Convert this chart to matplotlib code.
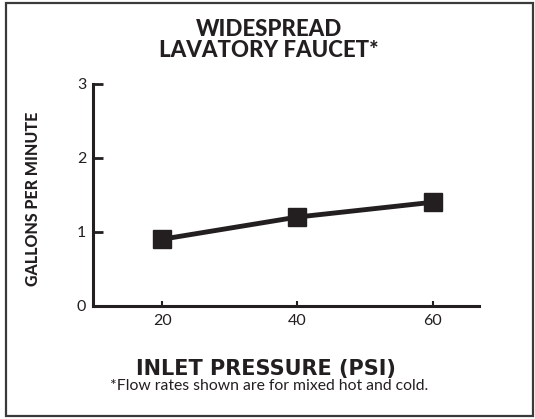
import matplotlib
matplotlib.use("Agg")
import matplotlib.pyplot as plt
from matplotlib.patches import Rectangle

# inlet pressure (psi) vs flow (gpm)
pressure = [20, 40, 60]
flow = [0.9, 1.2, 1.4]
y_ticks = [0, 1, 2, 3]

ink = "#231f20"
plt.rcParams["font.family"] = ["Lato", "DejaVu Sans"]

fig = plt.figure(figsize=(5.35, 4.19), dpi=100)
ax = fig.add_axes([0.174, 0.270, 0.721, 0.530])

ax.plot(pressure, flow, color=ink, lw=3.5, marker="s", markersize=12.5,
        markerfacecolor=ink, markeredgecolor=ink)

ax.set_xlim(9.8, 66.8)
ax.set_ylim(0, 3)
ax.set_xticks(pressure)
ax.set_yticks(y_ticks)

for side in ["top", "right"]:
    ax.spines[side].set_visible(False)
for side in ["left", "bottom"]:
    ax.spines[side].set_linewidth(2.2)
    ax.spines[side].set_color(ink)
    ax.spines[side].set_capstyle("projecting")

ax.tick_params(axis="y", direction="in", length=7, width=2, pad=5,
               labelsize=11.5, colors=ink)
ax.tick_params(axis="x", direction="in", length=3.5, width=1.5, pad=6,
               labelsize=11.5, colors=ink)

fig.text(0.503, 0.905, "WIDESPREAD\nLAVATORY FAUCET*", ha="center", va="center",
         fontsize=16, fontweight="black", color=ink, linespacing=1.0)
fig.text(0.062, 0.525, "GALLONS PER MINUTE", rotation=90, ha="center", va="center",
         fontsize=11.5, fontweight="black", color=ink)
fig.text(0.497, 0.119, "INLET PRESSURE (PSI)", ha="center", va="center",
         fontsize=15, fontweight="bold", color=ink, family="DejaVu Sans")
fig.text(0.503, 0.079, "*Flow rates shown are for mixed hot and cold.", ha="center",
         va="center", fontsize=11.3, color=ink)

fig.patches.append(Rectangle((0.012, 0.006), 0.984, 0.986, transform=fig.transFigure,
                             fill=False, edgecolor="#3a3a3a", lw=1.6))

fig.savefig("out.png", dpi=100)
